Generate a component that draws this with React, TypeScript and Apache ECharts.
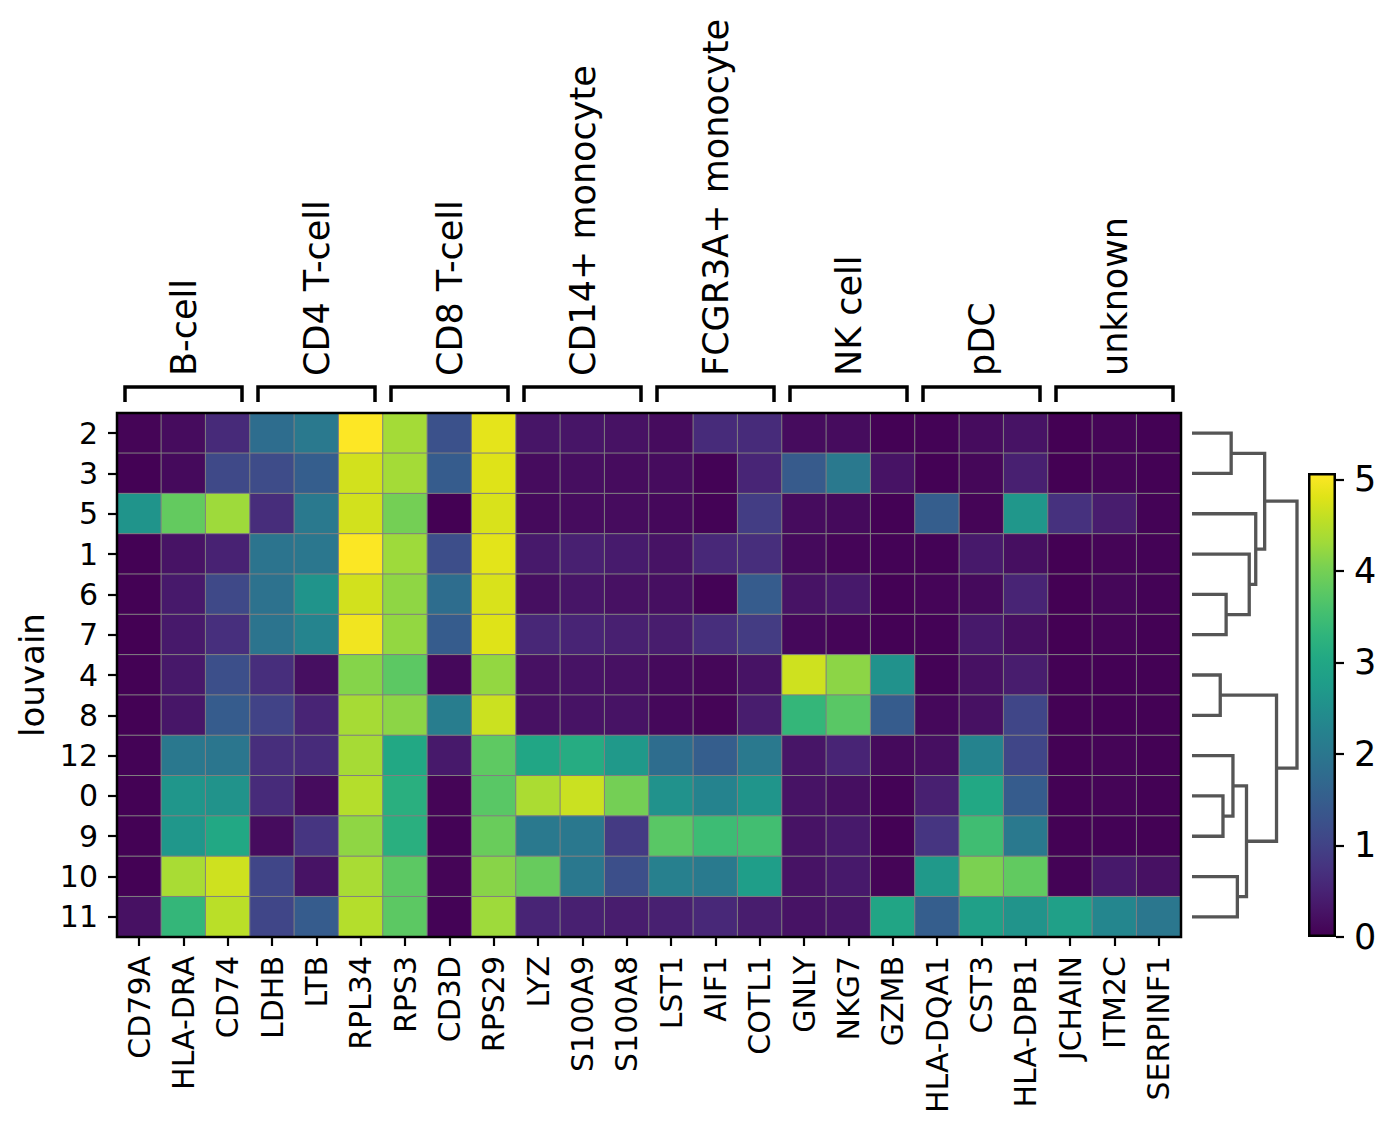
import React, { useEffect, useRef } from "react";
import * as echarts from "echarts";

const genes = ["CD79A","HLA-DRA","CD74","LDHB","LTB","RPL34","RPS3","CD3D","RPS29","LYZ","S100A9","S100A8","LST1","AIF1","COTL1","GNLY","NKG7","GZMB","HLA-DQA1","CST3","HLA-DPB1","JCHAIN","ITM2C","SERPINF1"];
const rowsLabels = ["2","3","5","1","6","7","4","8","12","0","9","10","11"];
const groups = [
  { name: "B-cell", start: 0, end: 2 },
  { name: "CD4 T-cell", start: 3, end: 5 },
  { name: "CD8 T-cell", start: 6, end: 8 },
  { name: "CD14+ monocyte", start: 9, end: 11 },
  { name: "FCGR3A+ monocyte", start: 12, end: 14 },
  { name: "NK cell", start: 15, end: 17 },
  { name: "pDC", start: 18, end: 20 },
  { name: "unknown", start: 21, end: 23 },
];

const r2 = [0.05,0.15,0.6,1.8,2.05,5.07,4.35,1.25,4.87,0.28,0.28,0.24,0.15,0.62,0.62,0.15,0.15,0.02,0.03,0.15,0.25,0.0,0.05,0.02];
const r3 = [0.02,0.12,1.1,1.15,1.5,4.72,4.35,1.47,4.82,0.15,0.18,0.15,0.15,0.03,0.52,1.45,2.05,0.25,0.02,0.08,0.45,0.0,0.05,0.02];
const r5 = [2.6,3.85,4.3,0.65,2.05,4.72,4.0,0.0,4.77,0.12,0.15,0.15,0.1,0.03,0.9,0.15,0.12,0.02,1.5,0.05,2.65,0.72,0.4,0.03];
const r1 = [0.02,0.25,0.48,1.95,2.0,5.05,4.3,1.2,4.85,0.35,0.45,0.38,0.25,0.57,0.67,0.12,0.06,0.03,0.03,0.35,0.2,0.0,0.05,0.03];
const r6 = [0.02,0.35,1.1,1.9,2.6,4.72,4.2,1.8,4.77,0.2,0.28,0.22,0.2,0.03,1.47,0.25,0.35,0.02,0.06,0.12,0.5,0.0,0.08,0.03];
const r7 = [0.0,0.35,0.68,1.95,2.28,4.97,4.23,1.47,4.82,0.55,0.5,0.45,0.4,0.67,0.88,0.1,0.06,0.02,0.03,0.35,0.2,0.0,0.05,0.02];
const r4 = [0.02,0.33,1.22,0.67,0.2,4.13,3.78,0.1,4.23,0.22,0.25,0.22,0.12,0.08,0.25,4.69,4.18,2.56,0.03,0.22,0.4,0.02,0.02,0.02];
const r8 = [0.02,0.3,1.47,1.0,0.5,4.37,4.18,2.13,4.67,0.22,0.25,0.25,0.1,0.05,0.4,3.35,3.75,1.47,0.1,0.22,1.05,0.02,0.02,0.02];
const r12 = [0.03,2.03,1.98,0.67,0.62,4.37,3.03,0.35,3.8,2.98,3.12,2.69,1.8,1.5,2.05,0.28,0.5,0.12,0.2,2.26,1.05,0.02,0.05,0.02];
const r0 = [0.02,2.64,2.58,0.62,0.15,4.49,3.2,0.05,3.75,4.41,4.66,4.0,2.56,2.26,2.61,0.25,0.2,0.03,0.45,3.04,1.47,0.02,0.05,0.02];
const r9 = [0.02,2.66,3.04,0.15,0.78,4.2,3.2,0.03,3.9,2.05,2.03,0.86,3.75,3.47,3.52,0.25,0.35,0.02,0.78,3.5,2.05,0.02,0.03,0.02];
const r10 = [0.02,4.39,4.69,1.05,0.25,4.39,3.78,0.05,4.15,3.88,2.03,1.22,2.2,2.08,2.79,0.25,0.35,0.05,2.69,4.06,3.83,0.03,0.35,0.22];
const r11 = [0.22,3.35,4.54,1.05,1.47,4.49,3.78,0.03,4.3,0.5,0.45,0.4,0.45,0.57,0.4,0.25,0.28,2.97,1.5,2.84,2.59,2.84,2.33,2.0];
const matrix = [r2, r3, r5, r1, r6, r7, r4, r8, r12, r0, r9, r10, r11];

const VMAX = 5.07;
const cbTicks = [0, 1, 2, 3, 4, 5];

// dendrogram links: [yA, hA, yB, hB, hNode] (y = leaf position, h = distance)
const dendroLinks = [
  [0, 0, 1, 0, 0.373],
  [4, 0, 5, 0, 0.325],
  [3, 0, 4.5, 0.325, 0.545],
  [2, 0, 3.75, 0.545, 0.607],
  [0.5, 0.373, 2.875, 0.607, 0.692],
  [6, 0, 7, 0, 0.269],
  [9, 0, 10, 0, 0.295],
  [8, 0, 9.5, 0.295, 0.39],
  [11, 0, 12, 0, 0.432],
  [8.75, 0.39, 11.5, 0.432, 0.519],
  [6.5, 0.269, 10.125, 0.519, 0.805],
  [1.6875, 0.692, 8.3125, 0.805, 1.0],
];

const VIRIDIS = ["#440154","#471365","#482475","#463480","#414487","#3b528b","#355f8d","#2f6c8e","#2a788e","#25848e","#21918c","#1f9e89","#22a884","#2fb47c","#44bf70","#5ec962","#7ad151","#9fda3a","#bddf26","#dfe318","#fde725"];

const FONT = "DejaVu Sans";
const HM = { left: 117, top: 413, width: 1064, height: 524 };
const DG = { left: 1192, top: 413, width: 105, height: 524 };
const CB = { left: 1308, top: 473, width: 28, height: 464 };

export default function App() {
  const ref = useRef<HTMLDivElement>(null);
  useEffect(() => {
    document.body.style.margin = "0";
    if (!ref.current) return;
    const chart = echarts.init(ref.current, null, { renderer: "svg" });
    const heatData: number[][] = [];
    matrix.forEach((row, ri) => row.forEach((v, ci) => heatData.push([ci, ri, v])));
    const cw = HM.width / genes.length;
    const graphics: any[] = [];
    groups.forEach((g) => {
      const x1 = HM.left + g.start * cw + 8;
      const x2 = HM.left + (g.end + 1) * cw - 8;
      graphics.push({
        type: "polyline",
        shape: { points: [[x1, 402], [x1, 387], [x2, 387], [x2, 402]] },
        style: { stroke: "#000", lineWidth: 3.5, fill: "none" },
        z: 100,
      });
      graphics.push({
        type: "text",
        x: (x1 + x2) / 2,
        y: 376,
        rotation: Math.PI / 2,
        style: { text: g.name, font: `35px "${FONT}"`, fill: "#000", align: "left", verticalAlign: "middle" },
        z: 100,
      });
    });
    graphics.push({
      type: "rect",
      shape: { x: HM.left, y: HM.top, width: HM.width, height: HM.height },
      style: { fill: "none", stroke: "#000", lineWidth: 2.5 },
      z: 100,
    });
    const stops = VIRIDIS.map((c, i) => ({ offset: i / (VIRIDIS.length - 1), color: c }));
    chart.setOption({
      animation: false,
      textStyle: { fontFamily: FONT },
      grid: [
        { left: HM.left, top: HM.top, width: HM.width, height: HM.height },
        { left: DG.left, top: DG.top, width: DG.width, height: DG.height },
        { left: CB.left, top: CB.top, width: CB.width, height: CB.height },
      ],
      xAxis: [
        {
          type: "category", gridIndex: 0, data: genes, position: "bottom",
          axisLine: { show: false },
          axisTick: { show: true, alignWithLabel: true, length: 9, interval: 0, lineStyle: { color: "#000", width: 2.2 } },
          axisLabel: { rotate: 90, interval: 0, fontSize: 30, color: "#000", margin: 19, fontFamily: FONT },
          splitLine: { show: false },
        },
        { type: "value", gridIndex: 1, min: 0, max: 1, show: false },
        { type: "category", gridIndex: 2, data: ["c"], show: false },
      ],
      yAxis: [
        {
          type: "category", gridIndex: 0, data: rowsLabels, inverse: true,
          axisLine: { show: false },
          axisTick: { show: true, alignWithLabel: true, length: 9, interval: 0, lineStyle: { color: "#000", width: 2.2 } },
          axisLabel: { interval: 0, fontSize: 30, color: "#000", margin: 19, fontFamily: FONT },
          name: "louvain", nameLocation: "middle", nameGap: 60,
          nameTextStyle: { fontSize: 34, color: "#000", fontFamily: FONT },
        },
        { type: "value", gridIndex: 1, min: -0.5, max: 12.5, inverse: true, show: false },
        {
          type: "value", gridIndex: 2, min: 0, max: VMAX, position: "right",
          axisLine: { show: false },
          splitLine: { show: false },
          axisTick: { show: true, length: 8, customValues: cbTicks, lineStyle: { color: "#000", width: 2.2 } },
          axisLabel: { fontSize: 35, color: "#000", margin: 18, customValues: cbTicks, fontFamily: FONT },
        },
      ],
      visualMap: {
        show: false, type: "continuous", min: 0, max: VMAX, seriesIndex: 0, dimension: 2,
        inRange: { color: VIRIDIS },
      },
      series: [
        {
          type: "heatmap", xAxisIndex: 0, yAxisIndex: 0, data: heatData,
          itemStyle: { borderColor: "#808080", borderWidth: 1 },
          emphasis: { disabled: true },
        },
        {
          type: "custom", xAxisIndex: 1, yAxisIndex: 1, data: dendroLinks,
          renderItem: (params: any, api: any) => {
            const yA = api.value(0), hA = api.value(1), yB = api.value(2), hB = api.value(3), h = api.value(4);
            const pts = [api.coord([hA, yA]), api.coord([h, yA]), api.coord([h, yB]), api.coord([hB, yB])];
            return { type: "polyline", shape: { points: pts }, style: { stroke: "#555555", lineWidth: 3.3, fill: "none" } };
          },
          encode: { x: 4, y: 0 },
          silent: true,
        },
        {
          type: "bar", xAxisIndex: 2, yAxisIndex: 2, data: [VMAX], barWidth: "100%",
          itemStyle: {
            color: new echarts.graphic.LinearGradient(0, 1, 0, 0, stops),
            borderColor: "#000", borderWidth: 2.5,
          },
          silent: true,
        },
      ],
      graphic: graphics,
    });
    return () => chart.dispose();
  }, []);
  return <div ref={ref} style={{ width: 1393, height: 1125 }} />;
}
